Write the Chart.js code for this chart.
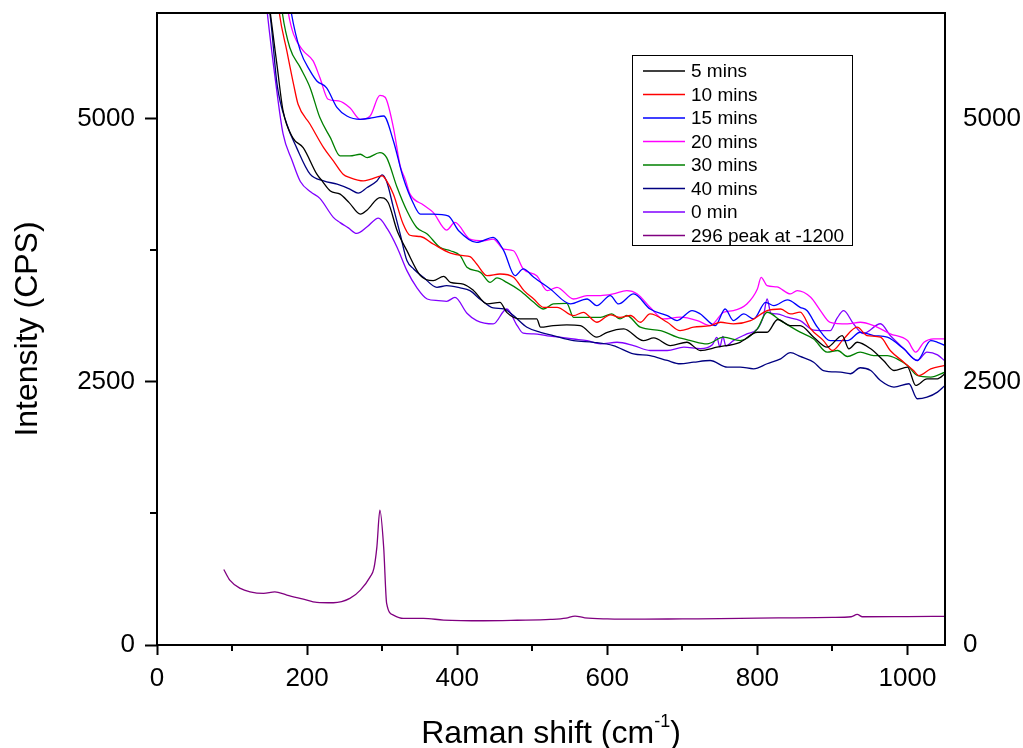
<!DOCTYPE html>
<html>
<head>
<meta charset="utf-8">
<script src="https://cdn.jsdelivr.net/npm/chart.js@4.4.1/dist/chart.umd.min.js"></script>
<style>
  html, body { margin: 0; padding: 0; background: #fff; }
  #wrap { width: 1023px; height: 748px; }
</style>
</head>
<body>
<div id="wrap"><canvas id="chart"></canvas></div>
<script>
// Raman spectra, values
const seriesLabels = ['5 mins', '10 mins', '15 mins', '20 mins', '30 mins', '40 mins', '0 min', '296 peak at -1200']
const seriesColors = ['#000000', '#ff0000', '#0000ff', '#ff00ff', '#008000', '#000080', '#8000ff', '#800080']

const xMajorTicks = [0, 200, 400, 600, 800, 1000]
const xMinorTicks = [100, 300, 500, 700, 900]
const yMajorTicks = [0, 2500, 5000]
const yMinorTicks = [1250, 3750]

const x5 = [100, 130, 151, 160, 168, 181, 195, 213, 220, 231, 244, 256, 271, 280, 297, 308, 320, 333, 351, 368, 382, 391, 408, 422, 440, 457, 466, 484, 506, 511, 528, 546, 564, 586, 600, 622, 648, 662, 684, 706, 724, 746, 777, 800, 813, 827, 844, 857, 875, 893, 913, 922, 933, 951, 968, 982, 1000, 1011, 1026, 1040, 1050]
const y5 = [10000, 7300, 6000, 5500, 5070, 4815, 4720, 4470, 4406, 4310, 4280, 4200, 4091, 4130, 4248, 4201, 3933, 3744, 3507, 3459, 3500, 3443, 3427, 3364, 3238, 3253, 3158, 3096, 3096, 3017, 3032, 3040, 3032, 2922, 2969, 3001, 2890, 2915, 2843, 2874, 2796, 2827, 2874, 2969, 2969, 3090, 3032, 3032, 2922, 2827, 2938, 2812, 2874, 2812, 2701, 2606, 2638, 2464, 2527, 2527, 2575]

const x10 = [100, 140, 163, 173, 182, 188, 204, 222, 235, 248, 257, 275, 284, 300, 306, 315, 328, 337, 351, 368, 391, 408, 417, 426, 440, 457, 475, 489, 502, 515, 533, 555, 568, 586, 604, 617, 631, 644, 657, 680, 697, 715, 737, 751, 768, 791, 813, 831, 844, 857, 871, 888, 900, 915, 933, 946, 964, 977, 995, 1008, 1015, 1031, 1050]
const y10 = [11000, 7600, 6000, 5640, 5323, 5133, 4944, 4722, 4596, 4470, 4438, 4406, 4420, 4454, 4406, 4280, 3996, 3890, 3878, 3807, 3720, 3696, 3688, 3617, 3506, 3522, 3491, 3364, 3285, 3206, 3206, 3127, 3158, 3064, 3135, 3111, 3128, 3064, 3143, 3064, 2985, 3017, 3032, 3064, 3049, 3080, 3175, 3190, 3143, 3160, 3001, 2890, 2796, 2906, 3017, 2938, 2922, 2796, 2685, 2606, 2558, 2622, 2654]

const x15 = [100, 150, 179, 191, 204, 213, 226, 240, 253, 271, 288, 302, 315, 328, 342, 351, 368, 388, 402, 426, 448, 462, 477, 488, 502, 524, 551, 573, 586, 604, 615, 635, 657, 680, 693, 713, 724, 744, 757, 768, 782, 795, 811, 822, 840, 857, 866, 880, 897, 920, 937, 955, 973, 995, 1013, 1031, 1040, 1050]
const y15 = [12000, 7500, 6000, 5640, 5450, 5355, 5290, 5101, 5022, 4991, 5006, 5022, 4785, 4438, 4186, 4091, 4091, 4075, 3933, 3822, 3870, 3744, 3506, 3570, 3491, 3380, 3238, 3285, 3222, 3317, 3238, 3333, 3190, 3127, 3080, 3175, 3143, 3032, 3190, 3080, 3143, 3096, 3253, 3222, 3276, 3206, 3175, 3017, 2890, 2890, 2969, 2938, 2922, 2812, 2701, 2890, 2874, 2843]

const x20 = [100, 150, 175, 182, 195, 208, 217, 228, 242, 257, 271, 284, 297, 304, 315, 324, 331, 337, 355, 368, 386, 397, 417, 435, 448, 462, 475, 488, 506, 520, 533, 555, 573, 591, 608, 626, 640, 657, 675, 697, 720, 737, 755, 768, 786, 800, 805, 813, 826, 844, 853, 871, 884, 897, 920, 937, 955, 977, 1000, 1011, 1022, 1035, 1050]
const y20 = [12000, 7300, 6000, 5797, 5640, 5545, 5387, 5181, 5165, 5101, 4990, 5022, 5218, 5200, 4912, 4549, 4416, 4283, 4178, 4107, 3939, 4012, 3854, 3838, 3854, 3759, 3743, 3570, 3506, 3364, 3396, 3285, 3317, 3317, 3333, 3364, 3333, 3206, 3096, 3112, 3080, 3032, 3159, 3175, 3238, 3380, 3491, 3412, 3400, 3333, 3364, 3301, 3175, 3064, 3049, 3064, 3032, 2954, 2890, 2780, 2874, 2906, 2906]

const x30 = [100, 145, 167, 177, 191, 204, 217, 231, 244, 257, 271, 280, 297, 306, 320, 333, 346, 360, 377, 391, 404, 413, 431, 444, 453, 466, 484, 502, 515, 528, 546, 555, 573, 591, 606, 617, 626, 644, 671, 693, 711, 733, 755, 777, 800, 813, 831, 857, 875, 893, 907, 920, 937, 955, 973, 986, 1000, 1013, 1031, 1050]
const y30 = [11000, 7400, 6000, 5670, 5481, 5291, 5007, 4817, 4643, 4643, 4659, 4627, 4675, 4627, 4343, 4122, 3964, 3902, 3775, 3743, 3696, 3586, 3538, 3443, 3485, 3443, 3364, 3253, 3190, 3238, 3244, 3111, 3111, 3111, 3143, 3096, 3128, 3017, 2985, 2922, 2890, 2859, 2922, 2890, 3001, 3159, 3080, 2970, 2906, 2780, 2796, 2739, 2780, 2748, 2748, 2717, 2654, 2559, 2543, 2590]

const x40 = [100, 130, 152, 160, 173, 186, 204, 222, 240, 257, 268, 280, 293, 300, 306, 315, 324, 333, 342, 355, 373, 386, 404, 417, 431, 448, 462, 475, 493, 511, 528, 555, 582, 608, 635, 657, 680, 697, 715, 737, 760, 777, 795, 813, 831, 844, 857, 875, 888, 911, 924, 937, 951, 964, 982, 1002, 1013, 1026, 1040, 1050]
const y40 = [9800, 7100, 5900, 5323, 4944, 4722, 4470, 4406, 4375, 4328, 4290, 4343, 4406, 4463, 4400, 4153, 3902, 3650, 3570, 3491, 3396, 3411, 3390, 3364, 3280, 3200, 3190, 3127, 3017, 2969, 2938, 2890, 2874, 2843, 2764, 2748, 2701, 2670, 2685, 2701, 2638, 2638, 2622, 2670, 2717, 2775, 2740, 2685, 2606, 2590, 2575, 2632, 2606, 2511, 2448, 2480, 2338, 2353, 2401, 2464]

const x0 = [100, 125, 147, 158, 168, 180, 191, 205, 217, 235, 244, 255, 266, 280, 295, 307, 320, 333, 346, 360, 375, 386, 397, 413, 426, 448, 466, 480, 488, 502, 520, 537, 555, 573, 591, 613, 635, 657, 680, 702, 724, 740, 746, 750, 754, 758, 768, 786, 800, 808, 813, 818, 826, 840, 857, 875, 897, 906, 915, 928, 941, 964, 977, 995, 1013, 1026, 1040, 1050]
const y0 = [9500, 7600, 6000, 5350, 4852, 4600, 4400, 4300, 4240, 4060, 4010, 3960, 3907, 3970, 4053, 3950, 3774, 3554, 3395, 3285, 3270, 3263, 3300, 3150, 3080, 3048, 3190, 3032, 2960, 2954, 2935, 2922, 2905, 2890, 2859, 2874, 2843, 2796, 2796, 2827, 2814, 2850, 2920, 2830, 2930, 2840, 2890, 2954, 3000, 3120, 3285, 3150, 3144, 3112, 3080, 2990, 2985, 3100, 3175, 3050, 2956, 3050, 2938, 2814, 2701, 2780, 2755, 2695]

const xPeak = [89, 97, 111, 124, 142, 157, 173, 195, 213, 235, 257, 271, 284, 289, 293, 297, 302, 306, 315, 328, 355, 382, 435, 480, 524, 545, 557, 570, 600, 650, 700, 750, 800, 850, 900, 925, 933, 940, 1000, 1050]
const yPeak = [717, 616, 537, 505, 490, 505, 474, 436, 405, 401, 442, 521, 647, 727, 932, 1280, 932, 395, 284, 253, 253, 237, 230, 235, 243, 255, 275, 258, 248, 245, 248, 250, 255, 258, 262, 268, 290, 268, 270, 272]

const xTitle = 'Raman shift (cm'
const xTitleSup = '-1'
const xTitleEnd = ')'
const yTitle = 'Intensity (CPS)'

const FONT = "'Liberation Sans', Arial, sans-serif"

const xs = [x5, x10, x15, x20, x30, x40, x0, xPeak]
const ys = [y5, y10, y15, y20, y30, y40, y0, yPeak]

const datasets = seriesLabels.map((label, i) => ({
  label: label,
  data: xs[i].map((x, j) => ({ x: x, y: ys[i][j] })),
  borderColor: seriesColors[i],
  borderWidth: 1.3,
  pointRadius: 0,
  fill: false,
  cubicInterpolationMode: 'monotone',
  yAxisID: 'y'
}))

// frame, minor ticks, inset legend and x title with superscript
const decorations = {
  id: 'decorations',
  afterDraw(chart) {
    const { ctx, chartArea: a, scales } = chart
    ctx.save()
    ctx.strokeStyle = '#000'
    ctx.lineWidth = 2
    ctx.beginPath()
    xMinorTicks.forEach(v => {
      const px = Math.round(scales.x.getPixelForValue(v))
      ctx.moveTo(px, a.bottom)
      ctx.lineTo(px, a.bottom + 6)
    })
    yMinorTicks.forEach(v => {
      const py = Math.round(scales.y.getPixelForValue(v))
      ctx.moveTo(a.left - 7, py)
      ctx.lineTo(a.left, py)
    })
    ctx.stroke()
    ctx.strokeRect(a.left, a.top, a.right - a.left, a.bottom - a.top)

    // legend box
    const lx = a.left + 475, ly = a.top + 42, lw = 220, lh = 190
    ctx.fillStyle = '#fff'
    ctx.fillRect(lx, ly, lw, lh)
    ctx.lineWidth = 1
    ctx.strokeRect(lx + 0.5, ly + 0.5, lw, lh)
    ctx.font = '19px ' + FONT
    ctx.textBaseline = 'middle'
    ctx.textAlign = 'left'
    seriesLabels.forEach((label, i) => {
      const ry = ly + 16 + i * 23.5
      ctx.strokeStyle = seriesColors[i]
      ctx.lineWidth = 1.3
      ctx.beginPath()
      ctx.moveTo(lx + 11, ry)
      ctx.lineTo(lx + 53, ry)
      ctx.stroke()
      ctx.fillStyle = '#000'
      ctx.fillText(label, lx + 59, ry + 1)
    })

    // x axis title
    ctx.fillStyle = '#000'
    ctx.textBaseline = 'alphabetic'
    ctx.font = '32px ' + FONT
    const w1 = ctx.measureText(xTitle).width
    const w3 = ctx.measureText(xTitleEnd).width
    ctx.font = '18px ' + FONT
    const w2 = ctx.measureText(xTitleSup).width
    let tx = (a.left + a.right) / 2 - (w1 + w2 + w3) / 2
    const base = 743
    ctx.font = '32px ' + FONT
    ctx.fillText(xTitle, tx, base)
    tx += w1
    ctx.font = '18px ' + FONT
    ctx.fillText(xTitleSup, tx, base - 16)
    tx += w2
    ctx.font = '32px ' + FONT
    ctx.fillText(xTitleEnd, tx, base)
    ctx.restore()
  }
}

const tickFont = { family: FONT, size: 26 }
const plainNumber = v => String(v)

new Chart(document.getElementById('chart'), {
  type: 'line',
  data: { datasets: datasets },
  plugins: [decorations],
  options: {
    responsive: true,
    maintainAspectRatio: false,
    animation: false,
    layout: { padding: { top: 13, left: 0, right: 0, bottom: 0 } },
    plugins: {
      legend: { display: false },
      tooltip: { enabled: false }
    },
    scales: {
      x: {
        type: 'linear',
        position: 'bottom',
        min: 0,
        max: 1050,
        afterBuildTicks: s => { s.ticks = xMajorTicks.map(v => ({ value: v })) },
        afterFit: s => { s.height = 103; s.paddingLeft = 0; s.paddingRight = 0 },
        grid: { drawOnChartArea: false, tickLength: 10, tickWidth: 2, tickColor: '#000' },
        border: { display: false },
        ticks: { font: tickFont, color: '#000', padding: 8, maxRotation: 0, callback: plainNumber }
      },
      y: {
        type: 'linear',
        position: 'left',
        min: 0,
        max: 6000,
        afterBuildTicks: s => { s.ticks = yMajorTicks.map(v => ({ value: v })) },
        afterFit: s => { s.width = 157; s.paddingTop = 0; s.paddingBottom = 0 },
        grid: { drawOnChartArea: false, tickLength: 12, tickWidth: 2, tickColor: '#000' },
        border: { display: false },
        ticks: { font: tickFont, color: '#000', padding: 10, callback: plainNumber },
        title: {
          display: true,
          text: yTitle,
          color: '#000',
          font: { family: FONT, size: 32 },
          padding: { top: 9, bottom: 0 }
        }
      },
      yRight: {
        type: 'linear',
        position: 'right',
        min: 0,
        max: 6000,
        afterBuildTicks: s => { s.ticks = yMajorTicks.map(v => ({ value: v })) },
        afterFit: s => { s.width = 78; s.paddingTop = 0; s.paddingBottom = 0 },
        grid: { display: false },
        border: { display: false },
        ticks: { font: tickFont, color: '#000', padding: 10, callback: plainNumber }
      }
    }
  }
})
</script>
</body>
</html>
